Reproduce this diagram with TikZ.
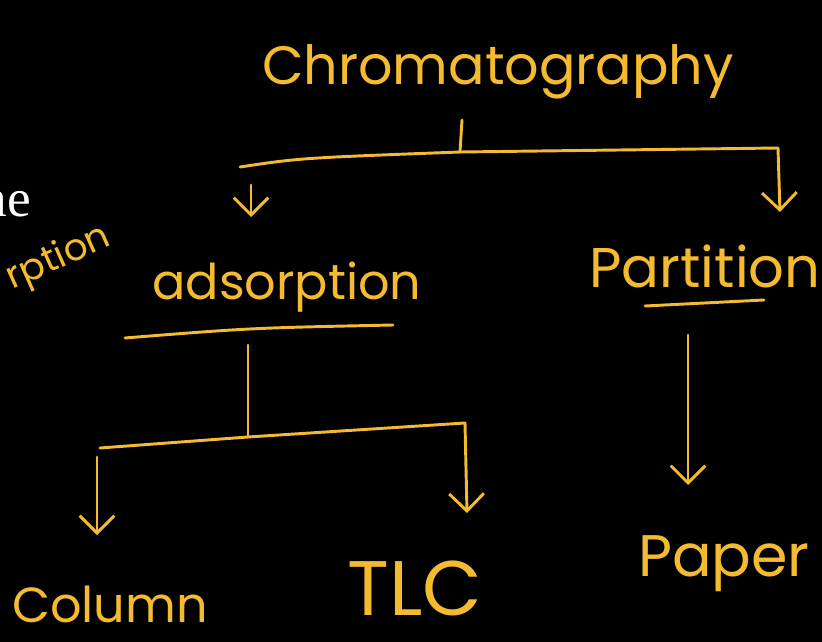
\documentclass[tikz,border=0pt]{standalone}
\usepackage{fontspec}
\setmainfont{Liberation Serif}
\newfontfamily\hand{Poppins}
\usetikzlibrary{arrows.meta}
\definecolor{chalk}{RGB}{244,186,48}
\tikzset{
  hw/.style={text=chalk, inner sep=0pt, font=\hand\fontsize{#1}{#1}\selectfont},
  hw/.default=40,
  pen/.style={draw=chalk, line width=2.2pt, line cap=round, line join=round},
  arr/.style={pen, -{Straight Barb[length=13pt,width=26pt,line width=2.2pt]}}
}
\begin{document}
\begin{tikzpicture}[x=0.75pt,y=-0.75pt]
\fill[black] (0,0) rectangle (822,642);
\useasboundingbox (0,0) rectangle (822,642);
\begin{scope}
\clip (0,0) rectangle (822,642);
% left partial texts
\node[text=white, inner sep=0pt, font=\fontsize{40}{40}\selectfont, anchor=base east] (ne) at (31,216) {ne};
\node[hw=28, anchor=base east, rotate=24] (rp) at (113,245) {rption};
\end{scope}
% nodes
\node[hw=40.5] (chrom) at (498,72) {Chromatography};
\node[hw=37] (ads) at (287,287) {adsorption};
\node[hw=42] (part) at (705,266) {Partition};
\node[hw=37] (col) at (110,604) {Column};
\node[hw=58] (tlc) at (415,588) {TLC};
\node[hw=44] (pap) at (724,564) {Paper};
% coordinates
\coordinate (t1) at (462,120);
\coordinate (j1) at (460,152);
\coordinate (l1) at (240,167);
\coordinate (r1) at (778,148);
\coordinate (a1s) at (251,185);
\coordinate (a1e) at (251,217);
\coordinate (r1e) at (780,212);
\coordinate (u1a) at (125,338);
\coordinate (u1b) at (393,325);
\coordinate (v2a) at (248,345);
\coordinate (j2) at (248,437);
\coordinate (l2) at (100,448);
\coordinate (r2) at (465,423);
\coordinate (r2e) at (467,513);
\coordinate (l2s) at (97,457);
\coordinate (l2e) at (97,535);
\coordinate (u3a) at (645,306);
\coordinate (u3b) at (764,300);
\coordinate (p3s) at (688,335);
\coordinate (p3e) at (688,485);
% connectors
\draw[pen] (t1) -- (j1);
\draw[pen] (l1) .. controls (300,158) .. (j1) -- (r1);
\draw[arr] (r1) -- (r1e);
\draw[arr] (a1s) -- (a1e);
\draw[pen] (u1a) .. controls (250,328) .. (u1b);
\draw[pen] (v2a) -- (j2);
\draw[pen] (l2) -- (j2) -- (r2);
\draw[arr] (r2) -- (r2e);
\draw[arr] (l2s) -- (l2e);
\draw[pen] (u3a) -- (u3b);
\draw[arr] (p3s) -- (p3e);
\end{tikzpicture}
\end{document}
